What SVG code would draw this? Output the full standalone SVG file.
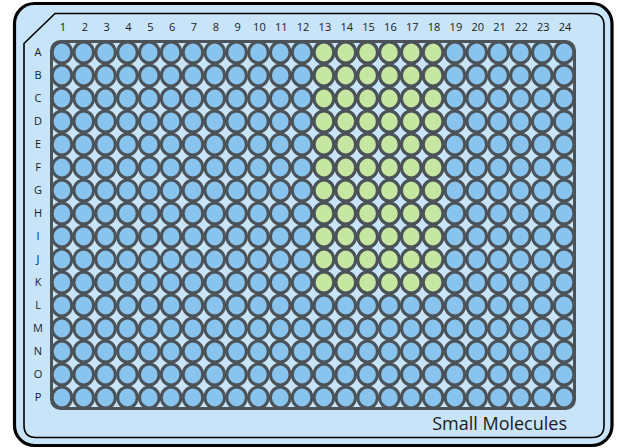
<svg xmlns="http://www.w3.org/2000/svg" xmlns:xlink="http://www.w3.org/1999/xlink" width="619" height="448" viewBox="0 0 619 448">
<style>
.lbl{font-family:"Open Sans","Noto Sans",sans-serif;font-size:11px;fill:#1a1a1a;text-anchor:middle}
.well{stroke:#4c5358;stroke-width:3}
.b{fill:#88c4ee}
.g{fill:#c6e7a1}
</style>
<defs>
<g id="rowBlue" class="well b">
<ellipse cx="61.92" cy="0" rx="9.8" ry="10.4"/><ellipse cx="83.75" cy="0" rx="9.8" ry="10.4"/><ellipse cx="105.58" cy="0" rx="9.8" ry="10.4"/><ellipse cx="127.42" cy="0" rx="9.8" ry="10.4"/><ellipse cx="149.25" cy="0" rx="9.8" ry="10.4"/><ellipse cx="171.08" cy="0" rx="9.8" ry="10.4"/><ellipse cx="192.92" cy="0" rx="9.8" ry="10.4"/><ellipse cx="214.75" cy="0" rx="9.8" ry="10.4"/><ellipse cx="236.58" cy="0" rx="9.8" ry="10.4"/><ellipse cx="258.42" cy="0" rx="9.8" ry="10.4"/><ellipse cx="280.25" cy="0" rx="9.8" ry="10.4"/><ellipse cx="302.08" cy="0" rx="9.8" ry="10.4"/><ellipse cx="323.92" cy="0" rx="9.8" ry="10.4"/><ellipse cx="345.75" cy="0" rx="9.8" ry="10.4"/><ellipse cx="367.58" cy="0" rx="9.8" ry="10.4"/><ellipse cx="389.42" cy="0" rx="9.8" ry="10.4"/><ellipse cx="411.25" cy="0" rx="9.8" ry="10.4"/><ellipse cx="433.08" cy="0" rx="9.8" ry="10.4"/><ellipse cx="454.92" cy="0" rx="9.8" ry="10.4"/><ellipse cx="476.75" cy="0" rx="9.8" ry="10.4"/><ellipse cx="498.58" cy="0" rx="9.8" ry="10.4"/><ellipse cx="520.42" cy="0" rx="9.8" ry="10.4"/><ellipse cx="542.25" cy="0" rx="9.8" ry="10.4"/><ellipse cx="564.08" cy="0" rx="9.8" ry="10.4"/>
</g>
<g id="rowGreen" class="well g">
<ellipse cx="323.92" cy="0" rx="9.8" ry="10.4"/><ellipse cx="345.75" cy="0" rx="9.8" ry="10.4"/><ellipse cx="367.58" cy="0" rx="9.8" ry="10.4"/><ellipse cx="389.42" cy="0" rx="9.8" ry="10.4"/><ellipse cx="411.25" cy="0" rx="9.8" ry="10.4"/><ellipse cx="433.08" cy="0" rx="9.8" ry="10.4"/>
</g>
</defs>
<g id="plate">
<rect x="14.5" y="3.5" width="597.5" height="442" rx="20" fill="#c8e4f9" stroke="#000" stroke-width="3.2"/>
<path d="M55,13.5 H592 Q604,13.5 604,25.5 V425.5 Q604,437.5 592,437.5 H36 Q24,437.5 24,425.5 V43.5 Z" fill="none" stroke="#000" stroke-width="1.6"/>
</g>
<g id="grid">
<rect x="51.5" y="41.5" width="523" height="367" rx="9" fill="#c8e4f9" stroke="#4c5358" stroke-width="3"/>
</g>
<g id="wells">
<use xlink:href="#rowBlue" y="52.5"/>
<use xlink:href="#rowBlue" y="75.5"/>
<use xlink:href="#rowBlue" y="98.5"/>
<use xlink:href="#rowBlue" y="121.5"/>
<use xlink:href="#rowBlue" y="144.5"/>
<use xlink:href="#rowBlue" y="167.5"/>
<use xlink:href="#rowBlue" y="190.5"/>
<use xlink:href="#rowBlue" y="213.5"/>
<use xlink:href="#rowBlue" y="236.5"/>
<use xlink:href="#rowBlue" y="259.5"/>
<use xlink:href="#rowBlue" y="282.5"/>
<use xlink:href="#rowBlue" y="305.5"/>
<use xlink:href="#rowBlue" y="328.5"/>
<use xlink:href="#rowBlue" y="351.5"/>
<use xlink:href="#rowBlue" y="374.5"/>
<use xlink:href="#rowBlue" y="397.5"/>
</g>
<g id="smallMolecules">
<use xlink:href="#rowGreen" y="52.5"/>
<use xlink:href="#rowGreen" y="75.5"/>
<use xlink:href="#rowGreen" y="98.5"/>
<use xlink:href="#rowGreen" y="121.5"/>
<use xlink:href="#rowGreen" y="144.5"/>
<use xlink:href="#rowGreen" y="167.5"/>
<use xlink:href="#rowGreen" y="190.5"/>
<use xlink:href="#rowGreen" y="213.5"/>
<use xlink:href="#rowGreen" y="236.5"/>
<use xlink:href="#rowGreen" y="259.5"/>
<use xlink:href="#rowGreen" y="282.5"/>
</g>
<g id="colLabels" class="lbl">
<text x="62.9" y="31">1</text><text x="84.8" y="31">2</text><text x="106.6" y="31">3</text><text x="128.4" y="31">4</text><text x="150.3" y="31">5</text><text x="172.1" y="31">6</text><text x="193.9" y="31">7</text><text x="215.8" y="31">8</text><text x="237.6" y="31">9</text><text x="259.4" y="31">10</text><text x="281.3" y="31">11</text><text x="303.1" y="31">12</text><text x="324.9" y="31">13</text><text x="346.8" y="31">14</text><text x="368.6" y="31">15</text><text x="390.4" y="31">16</text><text x="412.3" y="31">17</text><text x="434.1" y="31">18</text><text x="455.9" y="31">19</text><text x="477.8" y="31">20</text><text x="499.6" y="31">21</text><text x="521.4" y="31">22</text><text x="543.3" y="31">23</text><text x="565.1" y="31">24</text>
</g>
<g id="rowLabels" class="lbl">
<text x="38" y="56">A</text><text x="38" y="79">B</text><text x="38" y="102">C</text><text x="38" y="125">D</text><text x="38" y="148">E</text><text x="38" y="171">F</text><text x="38" y="194">G</text><text x="38" y="217">H</text><text x="38" y="240">I</text><text x="38" y="263">J</text><text x="38" y="286">K</text><text x="38" y="309">L</text><text x="38" y="332">M</text><text x="38" y="355">N</text><text x="38" y="378">O</text><text x="38" y="401">P</text>
</g>
<g id="title">
<text x="567" y="430" font-family="'Open Sans','Noto Sans',sans-serif" font-size="18" fill="#1a1a1a" text-anchor="end">Small Molecules</text>
</g>
</svg>
